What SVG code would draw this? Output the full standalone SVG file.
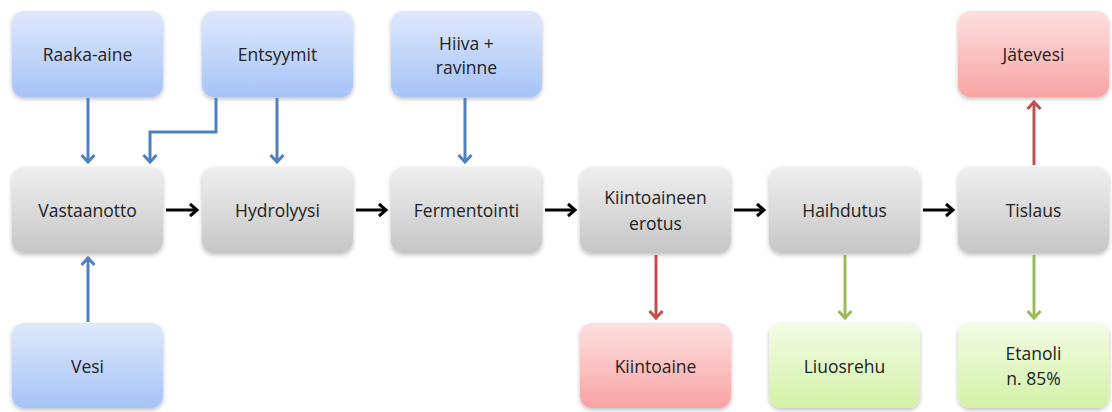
<svg xmlns="http://www.w3.org/2000/svg" width="1112" height="412" viewBox="0 0 1112 412">
  <defs>
    <linearGradient id="gBlue" x1="0" y1="0" x2="0" y2="1">
      <stop offset="0" stop-color="#dfe9fc"/>
      <stop offset="1" stop-color="#a6c3f7"/>
    </linearGradient>
    <linearGradient id="gGray" x1="0" y1="0" x2="0" y2="1">
      <stop offset="0" stop-color="#efefef"/>
      <stop offset="1" stop-color="#c6c6c6"/>
    </linearGradient>
    <linearGradient id="gRed" x1="0" y1="0" x2="0" y2="1">
      <stop offset="0" stop-color="#fde0e0"/>
      <stop offset="1" stop-color="#f9a3a3"/>
    </linearGradient>
    <linearGradient id="gGreen" x1="0" y1="0" x2="0" y2="1">
      <stop offset="0" stop-color="#f3fce6"/>
      <stop offset="1" stop-color="#d3f1a6"/>
    </linearGradient>
    <filter id="shadow" x="-10%" y="-10%" width="120%" height="130%">
      <feDropShadow dx="0" dy="2" stdDeviation="2" flood-color="#000" flood-opacity="0.25"/>
    </filter>
    <marker id="aBlue" markerUnits="userSpaceOnUse" viewBox="-8 -8 10 16" markerWidth="10" markerHeight="16" refX="0" refY="0" orient="auto" overflow="visible">
      <path d="M-7,-6.5 L0,0 L-7,6.5" fill="none" stroke="#4f81bd" stroke-width="3"/>
    </marker>
    <marker id="aBlack" markerUnits="userSpaceOnUse" viewBox="-8 -8 10 16" markerWidth="10" markerHeight="16" refX="0" refY="0" orient="auto" overflow="visible">
      <path d="M-7,-6 L0,0 L-7,6" fill="none" stroke="#000" stroke-width="3"/>
    </marker>
    <marker id="aRed" markerUnits="userSpaceOnUse" viewBox="-8 -8 10 16" markerWidth="10" markerHeight="16" refX="0" refY="0" orient="auto" overflow="visible">
      <path d="M-7,-6.5 L0,0 L-7,6.5" fill="none" stroke="#c0504d" stroke-width="3"/>
    </marker>
    <marker id="aGreen" markerUnits="userSpaceOnUse" viewBox="-8 -8 10 16" markerWidth="10" markerHeight="16" refX="0" refY="0" orient="auto" overflow="visible">
      <path d="M-7,-6.5 L0,0 L-7,6.5" fill="none" stroke="#9bbb59" stroke-width="3"/>
    </marker>
  </defs>
  <style>
    .box { filter: url(#shadow); }
    .blue { fill: url(#gBlue); }
    .gray { fill: url(#gGray); }
    .red { fill: url(#gRed); }
    .green { fill: url(#gGreen); }
    text { font-family: "Open Sans", "Liberation Sans", sans-serif; font-size: 17.5px; fill: #222; text-anchor: middle; dominant-baseline: central; }
    .c { fill: none; stroke-width: 3; }
    .cb { stroke: #4f81bd; marker-end: url(#aBlue); }
    .ck { stroke: #000; marker-end: url(#aBlack); }
    .cr { stroke: #c0504d; marker-end: url(#aRed); }
    .cg { stroke: #9bbb59; marker-end: url(#aGreen); }
  </style>

  <!-- inputs -->
  <g id="raaka-aine"><rect class="box blue" x="12" y="11" width="151" height="86" rx="12"/><text x="87.5" y="54">Raaka-aine</text></g>
  <g id="entsyymit"><rect class="box blue" x="202" y="11" width="151" height="86" rx="12"/><text x="277.5" y="54">Entsyymit</text></g>
  <g id="hiiva"><rect class="box blue" x="391" y="11" width="151" height="86" rx="12"/><text x="466.5" y="43">Hiiva +</text><text x="466.5" y="67">ravinne</text></g>
  <g id="jatevesi"><rect class="box red" x="958" y="11" width="151" height="86" rx="12"/><text x="1033.5" y="54">Jätevesi</text></g>

  <!-- process steps -->
  <g id="vastaanotto"><rect class="box gray" x="12" y="167" width="151" height="86" rx="12"/><text x="87.5" y="210">Vastaanotto</text></g>
  <g id="hydrolyysi"><rect class="box gray" x="202" y="167" width="151" height="86" rx="12"/><text x="277.5" y="210">Hydrolyysi</text></g>
  <g id="fermentointi"><rect class="box gray" x="391" y="167" width="151" height="86" rx="12"/><text x="466.5" y="210">Fermentointi</text></g>
  <g id="kiintoaineen-erotus"><rect class="box gray" x="580" y="167" width="151" height="86" rx="12"/><text x="655.5" y="197">Kiintoaineen</text><text x="655.5" y="223">erotus</text></g>
  <g id="haihdutus"><rect class="box gray" x="769" y="167" width="151" height="86" rx="12"/><text x="844.5" y="210">Haihdutus</text></g>
  <g id="tislaus"><rect class="box gray" x="958" y="167" width="151" height="86" rx="12"/><text x="1033.5" y="210">Tislaus</text></g>

  <!-- outputs and water -->
  <g id="vesi"><rect class="box blue" x="12" y="323" width="151" height="85" rx="12"/><text x="87.5" y="366">Vesi</text></g>
  <g id="kiintoaine"><rect class="box red" x="580" y="323" width="151" height="85" rx="12"/><text x="655.5" y="366">Kiintoaine</text></g>
  <g id="liuosrehu"><rect class="box green" x="769" y="323" width="151" height="85" rx="12"/><text x="844.5" y="366">Liuosrehu</text></g>
  <g id="etanoli"><rect class="box green" x="958" y="323" width="151" height="85" rx="12"/><text x="1033.5" y="353">Etanoli</text><text x="1033.5" y="378">n. 85%</text></g>

  <!-- connectors -->
  <g id="connectors">
    <path class="c cb" d="M88,98 V162"/>
    <path class="c cb" d="M216,98 V132 H150 V162"/>
    <path class="c cb" d="M277,98 V162"/>
    <path class="c cb" d="M465,98 V162"/>
    <path class="c cb" d="M88,322 V258"/>
    <path class="c ck" d="M166,210 H197"/>
    <path class="c ck" d="M356,210 H386"/>
    <path class="c ck" d="M545,210 H575"/>
    <path class="c ck" d="M734,210 H764"/>
    <path class="c ck" d="M923,210 H953"/>
    <path class="c cr" d="M656,255 V318"/>
    <path class="c cg" d="M845,255 V318"/>
    <path class="c cg" d="M1034,255 V318"/>
    <path class="c cr" d="M1034,165 V102"/>
  </g>
</svg>
